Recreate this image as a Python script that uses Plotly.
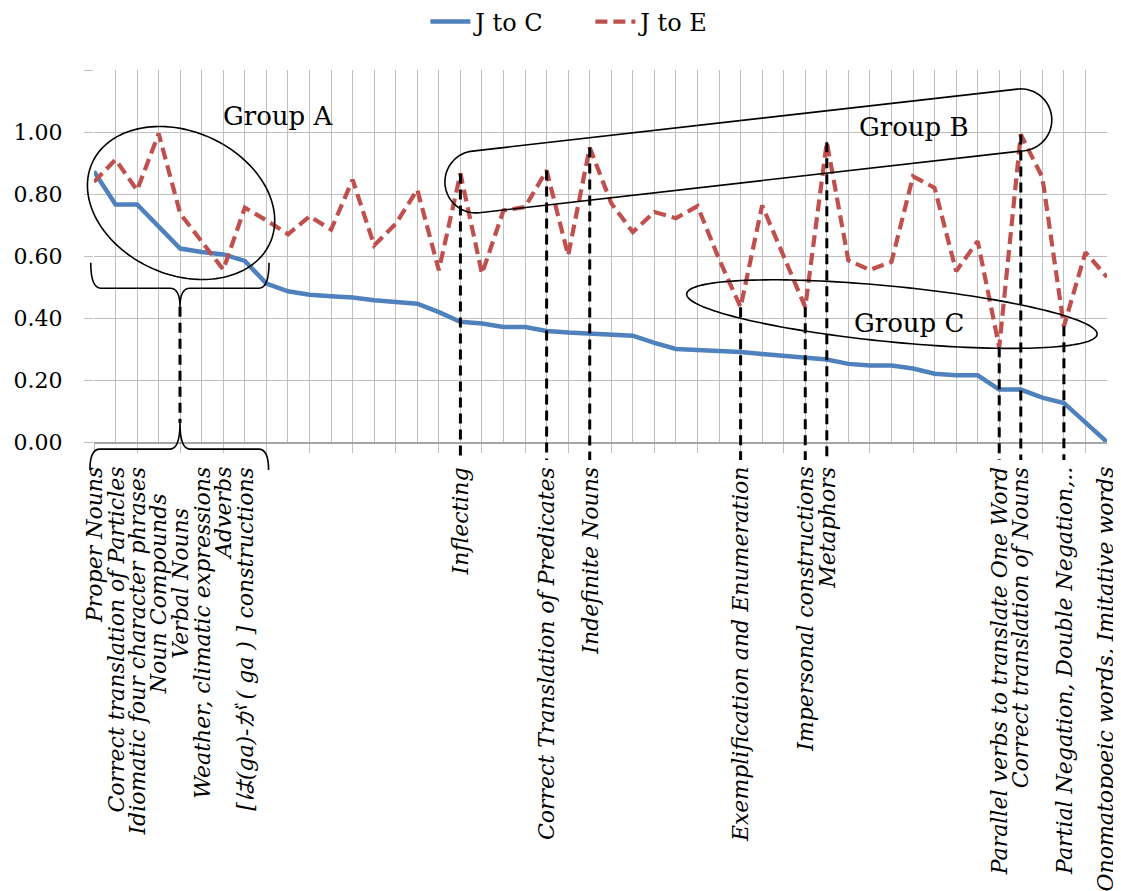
import numpy as np
import plotly.graph_objects as go

# ---------------- data ----------------
categories = [
    "Proper Nouns", "Correct translation of Particles", "Idiomatic four character phrases",
    "Noun Compounds", "Verbal Nouns", "Weather, climatic expressions", "Adverbs",
    "[は(ga)-が ( ga ) ] constructions",
    "", "", "", "", "", "", "", "", "",
    "Inflecting", "", "", "", "Correct Translation of Predicates", "", "Indefinite Nouns",
    "", "", "", "", "", "",
    "Exemplification and Enumeration", "", "",
    "Impersonal constructions", "Metaphors",
    "", "", "", "", "", "", "",
    "Parallel verbs to translate One Word", "Correct translation of Nouns", "",
    "Partial Negation, Double Negation,..", "", "Onomatopoeic words, Imitative words",
]

j_to_c = [0.873, 0.766, 0.766, 0.694, 0.624, 0.613, 0.605, 0.584, 0.511, 0.486,
          0.475, 0.470, 0.466, 0.457, 0.453, 0.446, 0.419, 0.388, 0.382, 0.371,
          0.371, 0.358, 0.353, 0.349, 0.345, 0.343, 0.320, 0.300, 0.297, 0.295,
          0.290, 0.284, 0.279, 0.274, 0.266, 0.252, 0.247, 0.247, 0.237, 0.220,
          0.215, 0.215, 0.169, 0.169, 0.143, 0.126, 0.065, 0.000]

j_to_e = [0.839, 0.911, 0.812, 0.995, 0.737, 0.646, 0.556, 0.756, 0.715, 0.670,
          0.728, 0.685, 0.846, 0.634, 0.704, 0.814, 0.554, 0.866, 0.543, 0.747,
          0.758, 0.876, 0.602, 0.950, 0.770, 0.677, 0.742, 0.722, 0.761, 0.590,
          0.435, 0.763, 0.597, 0.435, 0.967, 0.586, 0.555, 0.581, 0.857, 0.820,
          0.551, 0.648, 0.306, 0.992, 0.854, 0.373, 0.612, 0.532]

linked = ["Inflecting", "Correct Translation of Predicates", "Indefinite Nouns",
          "Exemplification and Enumeration", "Impersonal constructions", "Metaphors",
          "Parallel verbs to translate One Word", "Correct translation of Nouns",
          "Partial Negation, Double Negation,.."]

y_ticks = [0.0, 0.2, 0.4, 0.6, 0.8, 1.0, 1.2]
y_tick_text = ["0.00", "0.20", "0.40", "0.60", "0.80", "1.00", ""]

# ---------------- geometry / style ----------------
# the page body adds an 8px margin, so the figure is 8px smaller than the window
W, H = 1113, 883
ML, MR, MT, MB = 86, 14, 62, 449
PW, PH = W - ML - MR, H - MT - MB
N = len(categories)
YMAX = 1.2
PXX = PW / (N - 1)
PXY = PH / YMAX
x_idx = list(range(N))

BLUE = "#4F81BD"
RED = "#C0504D"
GRID = "#BFBFBF"
SERIF = "DejaVu Serif, Noto Sans CJK JP, serif"


def scr(ix, val):
    """data -> screen px relative to plot bottom-left (y down)"""
    return ix * PXX, -val * PXY


def paper(sx, sy):
    return sx / PW, -sy / PH


def path_from(points):
    pts = [paper(x, y) for x, y in points]
    return "M " + " L ".join(f"{x:.5f},{y:.5f}" for x, y in pts) + " Z"


def ellipse(cx, cy, a, b, theta):
    X0, Y0 = scr(cx, cy)
    th = np.radians(theta)
    t = np.linspace(0, 2 * np.pi, 160)
    dx = a * np.cos(t) * np.cos(th) - b * np.sin(t) * np.sin(th)
    dy = a * np.cos(t) * np.sin(th) + b * np.sin(t) * np.cos(th)
    return path_from(list(zip(X0 + dx, Y0 + dy)))


def stadium(p1, p2, r):
    X1, Y1 = scr(*p1)
    X2, Y2 = scr(*p2)
    phi = np.arctan2(Y2 - Y1, X2 - X1)
    a2 = np.linspace(phi - np.pi / 2, phi + np.pi / 2, 60)
    a1 = np.linspace(phi + np.pi / 2, phi + 3 * np.pi / 2, 60)
    pts = [(X2 + r * np.cos(a), Y2 + r * np.sin(a)) for a in a2]
    pts += [(X1 + r * np.cos(a), Y1 + r * np.sin(a)) for a in a1]
    return path_from(pts)


def brace(xl, xr, xc, y_end, y_mid, y_tip, r=10):
    XL, YE = scr(xl, y_end)
    XR, _ = scr(xr, y_end)
    XC, YM = scr(xc, y_mid)
    _, YT = scr(xc, y_tip)

    def p(x, y):
        px, py = paper(x, y)
        return f"{px:.5f},{py:.5f}"
    return (f"M {p(XL, YE)} Q {p(XL, YM)} {p(XL + r, YM)} L {p(XC - r, YM)} "
            f"Q {p(XC, YM)} {p(XC, YT)} Q {p(XC, YM)} {p(XC + r, YM)} "
            f"L {p(XR - r, YM)} Q {p(XR, YM)} {p(XR, YE)}")


fig = go.Figure()
fig.add_trace(go.Scatter(x=x_idx, y=j_to_c, mode="lines", name="J to C",
                         line=dict(color=BLUE, width=4.5)))
fig.add_trace(go.Scatter(x=x_idx, y=j_to_e, mode="lines", name="J to E",
                         line=dict(color=RED, width=4.2, dash="12px,6px")))

shapes = []
black_dash = dict(color="black", width=3, dash="10px,6px")
bottom_px = 18  # dashed lines end below the axis
for name in linked:
    i = categories.index(name)
    shapes.append(dict(type="line", xref="x", yref="paper", x0=i, x1=i,
                       y0=j_to_e[i] / YMAX, y1=-bottom_px / PH, line=black_dash, layer="above"))

outline = dict(color="black", width=1.6)
shapes.append(dict(type="path", xref="paper", yref="paper",
                   path=ellipse(4.04, 0.771, 97.5, 71.5, 24.2), line=outline))
shapes.append(dict(type="path", xref="paper", yref="paper",
                   path=stadium((17.72, 0.839), (43.0, 1.039), 31), line=outline))
shapes.append(dict(type="path", xref="paper", yref="paper",
                   path=ellipse(37.02, 0.4126, 206.2, 27.8, 5.64), line=outline))
# braces around group A labels
shapes.append(dict(type="path", xref="paper", yref="paper",
                   path=brace(-0.15, 8.12, 3.99, 0.578, 0.496, 0.436), line=outline))
shapes.append(dict(type="path", xref="paper", yref="paper",
                   path=brace(-0.19, 8.10, 3.99, -0.090, -0.023, 0.061), line=outline))
sx, sy0 = scr(3.99, 0.436)
_, sy1 = scr(3.99, 0.061)
px0, py0 = paper(sx, sy0)
_, py1 = paper(sx, sy1)
shapes.append(dict(type="line", xref="paper", yref="paper", x0=px0, x1=px0,
                   y0=py0, y1=py1, line=black_dash))

annotations = []
label_top = {"Noun Compounds": 50, "Verbal Nouns": 65}
label_xshift = {"Onomatopoeic words, Imitative words": -2}
for i, name in enumerate(categories):
    if not name:
        continue
    top = label_top.get(name, 24)
    annotations.append(dict(x=i, xref="x", y=-top / PH, yref="paper", text=f"<i>{name}</i>",
                            textangle=-90, xanchor="center", yanchor="top", showarrow=False,
                            xshift=label_xshift.get(name, 0), borderpad=0,
                            font=dict(family=SERIF, size=22, color="black")))

for txt, gx, gy in [("Group A", 8.54, 1.052), ("Group B", 38.05, 1.016), ("Group C", 37.81, 0.384)]:
    annotations.append(dict(x=gx, y=gy, xref="x", yref="y", text=txt, showarrow=False,
                            xanchor="center", yanchor="middle",
                            font=dict(family=SERIF, size=26, color="black")))

fig.update_layout(
    width=W, height=H,
    margin=dict(l=ML, r=MR, t=MT, b=MB, pad=0, autoexpand=False),
    paper_bgcolor="white", plot_bgcolor="white",
    showlegend=True,
    legend=dict(orientation="h", x=0.49, xanchor="center", y=(MT - 14) / PH + 1, yanchor="middle",
                font=dict(family=SERIF, size=24, color="black"), itemwidth=40,
                entrywidth=110, bgcolor="rgba(0,0,0,0)"),
    xaxis=dict(range=[0, N - 1], tickmode="linear", tick0=0, dtick=2,
               showticklabels=False, ticks="outside", ticklen=9, tickcolor=GRID,
               showgrid=True, gridcolor=GRID, gridwidth=1.2,
               minor=dict(dtick=1, tick0=0, showgrid=True, gridcolor=GRID, gridwidth=1.2),
               showline=True, linecolor="#A6A6A6", linewidth=1.5, zeroline=False),
    yaxis=dict(range=[0, YMAX], tickmode="array", tickvals=y_ticks, ticktext=y_tick_text,
               ticks="outside", ticklen=9, tickcolor=GRID, ticklabelstandoff=17,
               showgrid=True, gridcolor=GRID, gridwidth=1.2, zeroline=False,
               tickfont=dict(family=SERIF, size=22, color="black")),
    shapes=shapes,
    annotations=annotations,
)

fig.write_html("out.html")
